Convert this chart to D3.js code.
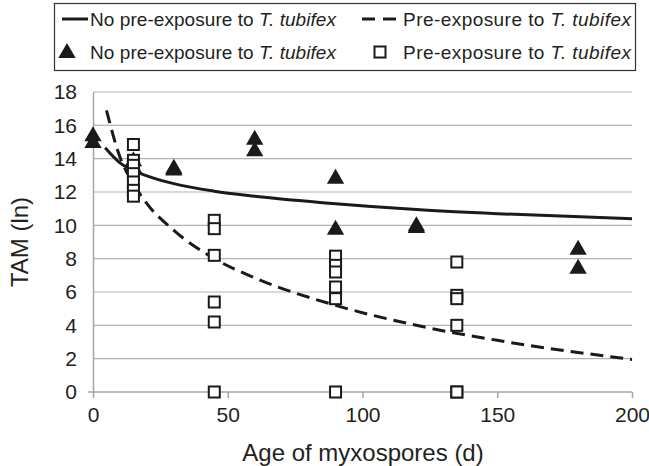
<!DOCTYPE html>
<meta charset="utf-8">
<head>
  <title>TAM vs age of myxospores</title>
</head>
<style>
body { margin: 0; background: #fff; }
text { font-family: "Liberation Sans", Arial, sans-serif; fill: #231f20; }
.grid line { stroke: #b3b3b3; stroke-width: 1.2px; }
.axis path, .axis line { stroke: #a6a6a6; stroke-width: 1.5px; }
.axis text { font-size: 21px; }
.fit { fill: none; stroke: #1a1a1a; stroke-width: 3px; }
</style>
<body>
<svg width="649" height="466"></svg>
<script src="https://cdnjs.cloudflare.com/ajax/libs/d3/7.8.5/d3.min.js"></script>
<script>
// observed points: no pre-exposure (triangles)
var triX = [0, 0, 15, 15, 30, 30, 60, 60, 90, 90, 120, 120, 180, 180];
var triY = [15.4, 15.0, 13.9, 13.5, 13.45, 13.35, 15.2, 14.5, 12.85, 9.8, 10.0, 9.9, 8.6, 7.45];

// observed points: pre-exposure (squares)
var sqX = [15, 15, 15, 15, 15, 15, 15, 45, 45, 45, 45, 45, 45, 90, 90, 90, 90, 90, 90, 135, 135, 135, 135, 135, 135];
var sqY = [14.85, 13.9, 13.6, 13.1, 12.6, 12.1, 11.75, 10.3, 9.8, 8.2, 5.4, 4.2, 0, 8.15, 7.6, 7.2, 6.3, 5.6, 0, 7.8, 5.8, 5.6, 4.0, 0, 0];

// trend lines
var fitX = [4.5, 10, 15, 20, 30, 45, 60, 90, 120, 150, 200];
var solidY = [14.65, 13.75, 13.3, 12.97, 12.5, 12.05, 11.75, 11.3, 10.95, 10.7, 10.4];
var dashX = [5, 10, 15, 20, 30, 45, 60, 90, 120, 150, 200];
var dashY = [16.9, 14.1, 12.5, 11.3, 9.7, 8.0, 6.85, 5.2, 4.0, 3.1, 1.95];

var xTicks = [0, 50, 100, 150, 200];
var yTicks = [0, 2, 4, 6, 8, 10, 12, 14, 16, 18];

var svg = d3.select("svg");
var x = d3.scaleLinear().domain([0, 200]).range([93, 632]);
var y = d3.scaleLinear().domain([0, 18]).range([392, 92]);

// gridlines
svg.append("g").attr("class", "grid")
  .selectAll("line").data(yTicks.filter(function(d) { return d > 0; }))
  .enter().append("line")
  .attr("x1", x(0)).attr("x2", x(200))
  .attr("y1", function(d) { return y(d); })
  .attr("y2", function(d) { return y(d); });

// axes
var xAxis = svg.append("g").attr("class", "axis")
  .attr("transform", "translate(0," + y(0) + ")")
  .call(d3.axisBottom(x).tickValues(xTicks).tickSize(6).tickSizeOuter(0).tickPadding(9));
xAxis.select(".domain").attr("d", "M" + (x(0) - 5) + ",0H" + x(200));

var yAxis = svg.append("g").attr("class", "axis")
  .attr("transform", "translate(" + x(0) + ",0)")
  .call(d3.axisLeft(y).tickValues(yTicks).tickSize(0).tickSizeOuter(0).tickPadding(16));

svg.append("text")
  .attr("x", 363).attr("y", 461)
  .attr("text-anchor", "middle")
  .style("font-size", "24px")
  .text("Age of myxospores (d)");

svg.append("text")
  .attr("transform", "translate(28," + y(9) + ") rotate(-90)")
  .attr("text-anchor", "middle")
  .style("font-size", "24px")
  .text("TAM (ln)");

// trend lines
var line = d3.line().curve(d3.curveMonotoneX);
svg.append("path").attr("class", "fit")
  .attr("d", line(fitX.map(function(d, i) { return [x(d), y(solidY[i])]; })));
svg.append("path").attr("class", "fit")
  .attr("stroke-dasharray", "13,7")
  .attr("d", line(dashX.map(function(d, i) { return [x(d), y(dashY[i])]; })));

// markers
var tri = d3.symbol().type(d3.symbolTriangle).size(130);
svg.append("g").selectAll("path").data(triX).enter().append("path")
  .attr("d", tri)
  .attr("transform", function(d, i) { return "translate(" + x(d) + "," + (y(triY[i]) + 1) + ")"; })
  .attr("fill", "#1a1a1a");

svg.append("g").selectAll("rect").data(sqX).enter().append("rect")
  .attr("x", function(d) { return x(d) - 5.5; })
  .attr("y", function(d, i) { return y(sqY[i]) - 5.5; })
  .attr("width", 11).attr("height", 11)
  .attr("fill", "#fff").attr("stroke", "#1a1a1a").attr("stroke-width", 2);

// legend
var lg = svg.append("g");
lg.append("rect").attr("x", 54.5).attr("y", 3.5).attr("width", 581).attr("height", 67)
  .attr("fill", "#fff").attr("stroke", "#333").attr("stroke-width", 1.2);

function legendText(tx, ty, label, w) {
  var t = lg.append("text").attr("x", tx).attr("y", ty).style("font-size", "19px")
    .attr("textLength", w).attr("lengthAdjust", "spacing");
  t.append("tspan").text(label);
  t.append("tspan").style("font-style", "italic").text("T. tubifex");
}
var label = ["No pre-exposure to ", "Pre-exposure to "];
lg.append("line").attr("x1", 62).attr("x2", 88).attr("y1", 19).attr("y2", 19)
  .attr("stroke", "#1a1a1a").attr("stroke-width", 3);
legendText(90, 26, label[0], 246);
lg.append("line").attr("x1", 362).attr("x2", 396).attr("y1", 19).attr("y2", 19)
  .attr("stroke", "#1a1a1a").attr("stroke-width", 3).attr("stroke-dasharray", "13,8");
legendText(403, 26, label[1], 228);
lg.append("path").attr("d", tri)
  .attr("transform", "translate(67,53)").attr("fill", "#1a1a1a");
legendText(90, 59, label[0], 246);
lg.append("rect").attr("x", 374.5).attr("y", 46.5).attr("width", 11).attr("height", 11)
  .attr("fill", "#fff").attr("stroke", "#1a1a1a").attr("stroke-width", 2);
legendText(403, 59, label[1], 228);
</script>
</body>
